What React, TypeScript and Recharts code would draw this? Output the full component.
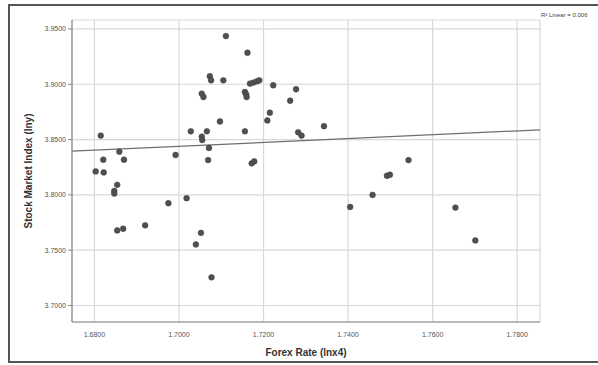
import React from 'react';
import { ScatterChart, Scatter, XAxis, YAxis, CartesianGrid, ReferenceLine, Label } from 'recharts';

const forexRate: number[] = [
  1.6803, 1.6815, 1.6821, 1.6822, 1.6847, 1.6847, 1.6854, 1.6854, 1.6868, 1.6859,
  1.6870, 1.6920, 1.6975, 1.6992, 1.7018, 1.7028, 1.7040, 1.7052, 1.7054, 1.7058,
  1.7054, 1.7055, 1.7066, 1.7071, 1.7069, 1.7077, 1.7073, 1.7076, 1.7105, 1.7111,
  1.7097, 1.7156, 1.7159, 1.7160, 1.7156, 1.7162, 1.7168, 1.7176, 1.7184, 1.7190,
  1.7172, 1.7178, 1.7209, 1.7215, 1.7223, 1.7263, 1.7277, 1.7282, 1.7290, 1.7343,
  1.7405, 1.7458, 1.7492, 1.7499, 1.7543, 1.7654, 1.7701,
];

const stockIndex: number[] = [
  3.8212, 3.8536, 3.8318, 3.8203, 3.8036, 3.8012, 3.8091, 3.7679, 3.7694, 3.8391,
  3.8318, 3.7725, 3.7925, 3.8361, 3.7970, 3.8575, 3.7552, 3.7657, 3.8915, 3.8885,
  3.8527, 3.8497, 3.8575, 3.8425, 3.8315, 3.7255, 3.9073, 3.9036, 3.9036, 3.9436,
  3.8664, 3.8930, 3.8909, 3.8885, 3.8575, 3.9285, 3.9006, 3.9015, 3.9027, 3.9036,
  3.8285, 3.8303, 3.8673, 3.8743, 3.8991, 3.8852, 3.8955, 3.8566, 3.8536, 3.8621,
  3.7891, 3.8000, 3.8173, 3.8182, 3.8315, 3.7885, 3.7588,
];

const xTicks: number[] = [1.68, 1.7, 1.72, 1.74, 1.76, 1.78];
const yTicks: number[] = [3.7, 3.75, 3.8, 3.85, 3.9, 3.95];

const fitX: number[] = [1.6747, 1.7854];
const fitY: number[] = [3.8395, 3.8588];

const xDomain: number[] = [1.6747, 1.7854];
const yDomain: number[] = [3.6851, 3.9581];

const legendText = 'R² Linear = 0.006';

const points = forexRate.map((x, i) => ({ x, y: stockIndex[i] }));

const Dot = (props: any) => {
  const { cx, cy } = props;
  if (cx == null || cy == null) return <g />;
  return <circle cx={cx} cy={cy} r={2.9} fill="#505050" stroke="#404040" strokeWidth={0.5} />;
};

export default function App() {
  return (
    <div style={{ position: 'absolute', left: 0, top: 0, width: 598, height: 365, background: '#fff', overflow: 'hidden' }}>
      <div
        style={{
          position: 'absolute',
          left: 8,
          top: 4,
          width: 620,
          height: 359,
          border: '2px solid #555',
          boxSizing: 'border-box',
        }}
      />
      <div style={{ position: 'absolute', left: 0, top: 0 }}>
        <ScatterChart
          width={598}
          height={365}
          margin={{ top: 20, right: 58, bottom: 13, left: 0 }}
          style={{ fontFamily: 'Liberation Sans, Arial, sans-serif' }}
        >
          <CartesianGrid stroke="#d8d8d8" strokeWidth={1.2} />
          <XAxis
            type="number"
            dataKey="x"
            domain={xDomain}
            ticks={xTicks}
            allowDataOverflow
            height={30}
            tickFormatter={(v: number) => v.toFixed(4)}
            tick={{ fontSize: 7, fill: '#555' }}
            axisLine={{ stroke: '#888', strokeWidth: 1.2 }}
            tickLine={false}
            tickMargin={4}
          >
            <Label value="Forex Rate (lnx4)" position="insideBottom" offset={-4} style={{ fontSize: 10, fontWeight: 'bold', fill: '#333' }} />
          </XAxis>
          <YAxis
            type="number"
            dataKey="y"
            domain={yDomain}
            ticks={yTicks}
            allowDataOverflow
            width={72}
            tickFormatter={(v: number) => v.toFixed(4)}
            tick={{ fontSize: 7, fill: '#555' }}
            axisLine={{ stroke: '#888', strokeWidth: 1.2 }}
            tickLine={{ stroke: '#888' }}
            tickSize={4}
            tickMargin={2}
          >
            <Label
              value="Stock Market Index (lny)"
              angle={-90}
              position="insideLeft"
              offset={28}
              style={{ fontSize: 10, fontWeight: 'bold', fill: '#333', textAnchor: 'middle' }}
            />
          </YAxis>
          <ReferenceLine
            segment={[
              { x: fitX[0], y: fitY[0] },
              { x: fitX[1], y: fitY[1] },
            ]}
            stroke="#6e6e6e"
            strokeWidth={1.3}
            ifOverflow="hidden"
          />
          <Scatter data={points} shape={<Dot />} isAnimationActive={false} />
        </ScatterChart>
      </div>
      <span
        style={{
          position: 'absolute',
          left: 541,
          top: 12,
          fontSize: 6,
          color: '#444',
          whiteSpace: 'nowrap',
          fontFamily: 'Liberation Sans, Arial, sans-serif',
        }}
      >
        {legendText}
      </span>
    </div>
  );
}
